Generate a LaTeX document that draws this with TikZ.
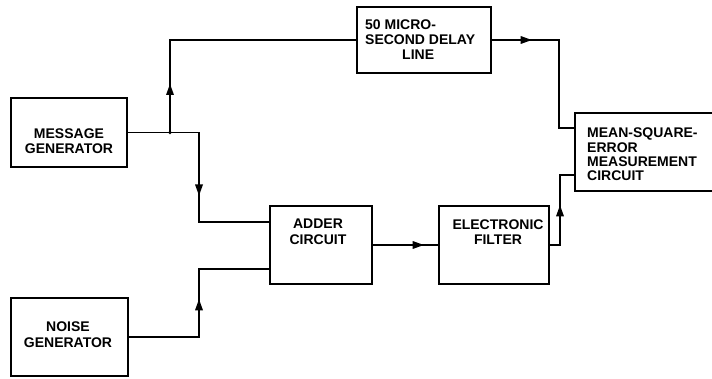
\documentclass[tikz,border=0pt]{standalone}
\usepackage{fontspec}
\setmainfont{Liberation Sans}
\usetikzlibrary{decorations.markings}
\tikzset{
  box/.style={draw, line width=1.4pt, inner sep=0pt},
  lbl/.style={font=\fontsize{14}{15}\selectfont\bfseries, inner sep=0pt},
  wire/.style={line width=1.4pt},
  midarrow/.style={postaction={decorate}, decoration={markings,
     mark=at position #1 with {\fill (1pt,0pt) -- (-10pt,4pt) -- (-10pt,-4pt) -- cycle;}}}
}
\begin{document}
\begin{tikzpicture}[x=1pt,y=-1pt]
\useasboundingbox (0,0) rectangle (712,379);
\clip (0,0) rectangle (712,379);
% boxes
\node[box, minimum width=116pt, minimum height=69pt] (msg) at (69,132.5) {};
\node[box, minimum width=117pt, minimum height=78pt] (noise) at (69.5,337) {};
\node[box, minimum width=102pt, minimum height=78pt] (adder) at (321,245) {};
\node[box, minimum width=110pt, minimum height=78pt] (filter) at (494,245) {};
\node[box, minimum width=134pt, minimum height=66pt] (delay) at (424,40) {};
\node[box, minimum width=150pt, minimum height=78pt] (mse) at (650,152) {};
% labels
\node[lbl, align=center] (msgt) at (69,141) {MESSAGE\\GENERATOR};
\node[lbl, align=center, font=\fontsize{14}{16.5}\selectfont\bfseries] (noiset) at (68,334.5) {NOISE\\GENERATOR};
\node[lbl, align=center, font=\fontsize{14}{16}\selectfont\bfseries] (addert) at (318,232) {ADDER\\CIRCUIT};
\node[lbl, align=center] (filtert) at (498,232.5) {ELECTRONIC\\FILTER};
\node[lbl, align=left, anchor=west] (delayt) at (365,40) {50 MICRO-\\SECOND DELAY\\\hspace*{37pt}LINE};
\node[lbl, align=left, anchor=west, font=\fontsize{14}{14.3}\selectfont\bfseries] (mset) at (587,154.5) {MEAN-SQUARE-\\ERROR\\MEASUREMENT\\CIRCUIT};
% junction
\coordinate (jn) at (170,132.5);
\fill (jn) circle (1.8pt);
% connectors
\draw[wire] (msg.east) -- (jn);
\draw[wire, midarrow=91pt] (jn) -- (199,132.5) -- (199,222) -- (adder.west |- 0,222);
\draw[wire, midarrow=47.5pt] (jn) -- (170,40) -- (delay.west);
\draw[wire, midarrow=107pt] (noise.east) -- (199,337) -- (199,269) -- (adder.west |- 0,269);
\draw[wire, midarrow=39pt] (delay.east) -- (559,40) -- (559,128) -- (mse.west |- 0,128);
\draw[wire, midarrow=50pt] (adder.east) -- (filter.west);
\draw[wire, midarrow=49pt] (filter.east) -- (560,245) -- (560,175) -- (mse.west |- 0,175);
\end{tikzpicture}
\end{document}
